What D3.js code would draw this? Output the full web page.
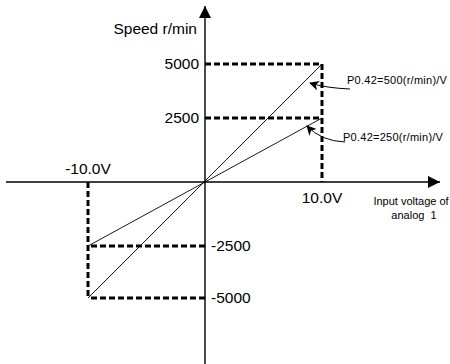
<!DOCTYPE html>
<html>
<head>
<meta charset="utf-8">
<script src="https://cdn.jsdelivr.net/npm/d3@7"></script>
<style>
  body { margin: 0; background: #fff; overflow: hidden; }
  svg text { font-family: Arial, "Liberation Sans", sans-serif; fill: #000; }
</style>
</head>
<body>
<div id="chart"></div>
<script>
// chart values
const voltages = [-10, 10]               // analog input range (V)
const voltLabels = ["-10.0V", "10.0V"]
const speedTicks = [5000, 2500, -2500, -5000]
const gains = [500, 250]                  // P0.42 in (r/min)/V
const gainLabels = ["P0.42=500(r/min)/V", "P0.42=250(r/min)/V"]

const width = 450, height = 364

const svg = d3.select("#chart").append("svg")
  .attr("width", width)
  .attr("height", height)

// the original drawing is not quite linear, so piecewise scale on speed
const x = d3.scaleLinear().domain([-10, 0, 10]).range([88, 205, 322])
const y = d3.scaleLinear()
  .domain([-5000, -2500, 0, 2500, 5000])
  .range([298, 246, 182, 118, 64])

const x0 = x(0), y0 = y(0)

// arrow heads
const defs = svg.append("defs")
defs.append("marker")
  .attr("id", "axisArrow")
  .attr("viewBox", "0 0 10 10")
  .attr("refX", 10).attr("refY", 5)
  .attr("markerWidth", 14).attr("markerHeight", 12)
  .attr("markerUnits", "userSpaceOnUse")
  .attr("orient", "auto")
  .append("path").attr("d", "M0,0 L10,5 L0,10 Z").attr("fill", "#000")

defs.append("marker")
  .attr("id", "noteArrow")
  .attr("viewBox", "0 0 10 10")
  .attr("refX", 9).attr("refY", 5)
  .attr("markerWidth", 10).attr("markerHeight", 10)
  .attr("markerUnits", "userSpaceOnUse")
  .attr("orient", "auto")
  .append("path").attr("d", "M0,0 L10,5 L0,10 L3,5 Z").attr("fill", "#000")

// axes
svg.append("line")
  .attr("x1", 6).attr("y1", y0).attr("x2", 440).attr("y2", y0)
  .attr("stroke", "#000").attr("stroke-width", 1.4)
  .attr("marker-end", "url(#axisArrow)")

svg.append("line")
  .attr("x1", x0).attr("y1", height).attr("x2", x0).attr("y2", 6)
  .attr("stroke", "#000").attr("stroke-width", 1.4)
  .attr("marker-end", "url(#axisArrow)")

// dashed guide lines
const dash = g => g.attr("stroke", "#000").attr("stroke-width", 3)
  .attr("stroke-dasharray", "6,3").attr("fill", "none")

const gDash = svg.append("g").call(dash)

// horizontal guides from the speed axis to each voltage end
gains.forEach(k => {
  const hi = k * voltages[1], lo = k * voltages[0]
  gDash.append("line")
    .attr("x1", x0).attr("x2", x(voltages[1]))
    .attr("y1", y(hi)).attr("y2", y(hi))
  gDash.append("line")
    .attr("x1", x0).attr("x2", x(voltages[0]))
    .attr("y1", y(lo)).attr("y2", y(lo))
})
// verticals at +/-10V
gDash.append("line")
  .attr("x1", x(voltages[1])).attr("x2", x(voltages[1]))
  .attr("y1", y(d3.max(gains) * voltages[1])).attr("y2", y0)
gDash.append("line")
  .attr("x1", x(voltages[0])).attr("x2", x(voltages[0]))
  .attr("y1", y0).attr("y2", y(d3.max(gains) * voltages[0]))

// speed lines through the origin
gains.forEach(k => {
  svg.append("line")
    .attr("x1", x(voltages[0])).attr("y1", y(k * voltages[0]))
    .attr("x2", x(voltages[1])).attr("y2", y(k * voltages[1]))
    .attr("stroke", "#000").attr("stroke-width", 0.9)
})

// tick labels
speedTicks.forEach(v => {
  svg.append("text")
    .attr("x", v > 0 ? x0 - 6 : x0 + 6)
    .attr("y", y(v))
    .attr("dy", "0.35em")
    .attr("text-anchor", v > 0 ? "end" : "start")
    .style("font-size", "15.5px")
    .text(v)
})

svg.append("text")
  .attr("x", x(voltages[0])).attr("y", 174)
  .attr("text-anchor", "middle")
  .style("font-size", "15.5px")
  .text(voltLabels[0])
svg.append("text")
  .attr("x", x(voltages[1])).attr("y", 203)
  .attr("text-anchor", "middle")
  .style("font-size", "15.5px")
  .text(voltLabels[1])

// axis titles
svg.append("text")
  .attr("x", 197).attr("y", 34)
  .attr("text-anchor", "end")
  .style("font-size", "15.5px")
  .text("Speed r/min")

svg.append("text")
  .attr("x", 411).attr("y", 205)
  .attr("text-anchor", "middle")
  .style("font-size", "11px")
  .text("Input voltage of")
svg.append("text")
  .attr("x", 414).attr("y", 219)
  .attr("text-anchor", "middle")
  .style("font-size", "11px")
  .style("white-space", "pre")
  .text("analog  1")

// gain notes with curved pointers
const notePos = [
  { tx: 347, ty: 84, tail: [350, 89], tip: [310, 83] },
  { tx: 343, ty: 141, tail: [345, 142], tip: [307, 126] }
]
gains.forEach((k, i) => {
  const p = notePos[i]
  svg.append("text")
    .attr("x", p.tx).attr("y", p.ty)
    .style("font-size", "11px")
    .style("letter-spacing", "0.25px")
    .text(gainLabels[i])
  const c1 = [p.tail[0] - 24, p.tail[1] - 1]
  svg.append("path")
    .attr("d", `M${p.tail[0]},${p.tail[1]} Q${c1[0]},${c1[1]} ${p.tip[0]},${p.tip[1]}`)
    .attr("fill", "none").attr("stroke", "#000").attr("stroke-width", 1)
    .attr("marker-end", "url(#noteArrow)")
})
</script>
</body>
</html>
